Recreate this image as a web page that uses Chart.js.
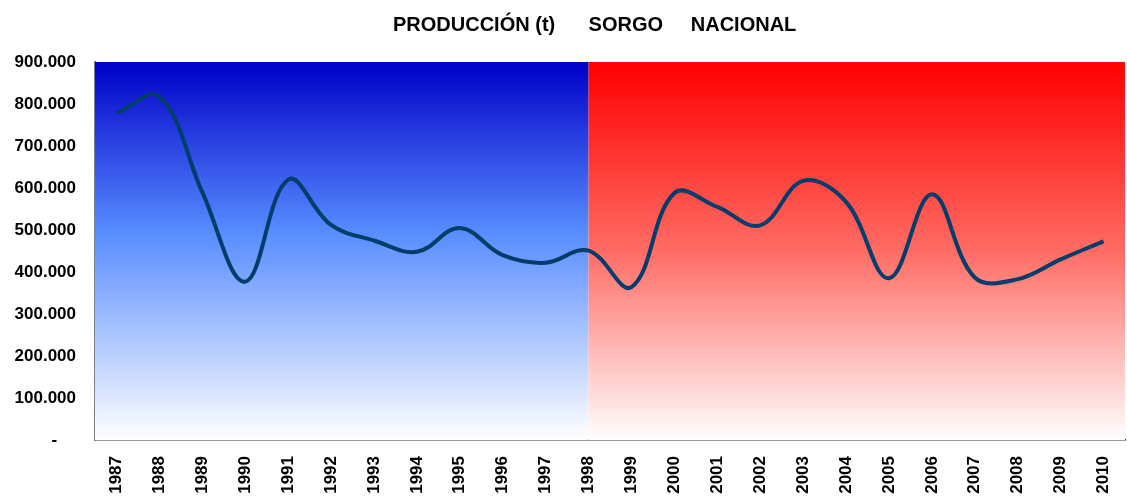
<!DOCTYPE html>
<html>
<head>
<meta charset="utf-8">
<script src="https://cdn.jsdelivr.net/npm/chart.js@4"></script>
<style>
  body { margin: 0; background: #fff; }
  #wrap { position: relative; width: 1127px; height: 500px; }
  #title {
    position: absolute; top: 14px; left: 393px;
    font: bold 20px "Liberation Sans", Arial, sans-serif;
    line-height: 20px; white-space: pre; color: #000;
  }
  canvas { position: absolute; left: 0; top: 0; }
</style>
</head>
<body>
<div id="wrap">
  <canvas id="chart" width="1127" height="500"></canvas>
  <div id="title">PRODUCCIÓN (t)      SORGO     NACIONAL</div>
</div>
<script>
// Data
const years = ["1987", "1988", "1989", "1990", "1991", "1992", "1993", "1994",
  "1995", "1996", "1997", "1998", "1999", "2000", "2001", "2002",
  "2003", "2004", "2005", "2006", "2007", "2008", "2009", "2010"];
const production = [778000, 818000, 590000, 377000, 620000, 512000, 475000, 448000,
  505000, 440000, 422000, 451000, 364000, 588000, 555000, 511000,
  617000, 567000, 385000, 585000, 387000, 383000, 430000, 473000];
const splitYear = "1998";
const yMax = 900000;
const yStep = 100000;

// Thousands with dots, zero as a dash
function formatTick(v) {
  if (v === 0) return "-    ";
  return String(v).replace(/\B(?=(\d{3})+(?!\d))/g, ".");
}

// Blue / red gradient halves behind the line
const backgroundHalves = {
  id: "backgroundHalves",
  beforeDatasetsDraw(chart) {
    const { ctx, chartArea: a, scales } = chart;
    const split = scales.x.getPixelForValue(years.indexOf(splitYear));

    const blue = ctx.createLinearGradient(0, a.top, 0, a.bottom);
    blue.addColorStop(0, "rgb(0,0,200)");
    blue.addColorStop(0.45, "rgb(88,140,255)");
    blue.addColorStop(1, "rgb(255,255,255)");

    const red = ctx.createLinearGradient(0, a.top, 0, a.bottom);
    red.addColorStop(0, "rgb(255,0,0)");
    red.addColorStop(0.5, "rgb(255,108,100)");
    red.addColorStop(1, "rgb(255,255,255)");

    ctx.save();
    ctx.fillStyle = blue;
    ctx.fillRect(a.left, a.top, split - a.left, a.bottom - a.top);
    ctx.fillStyle = red;
    ctx.fillRect(split, a.top, a.right - split, a.bottom - a.top);
    ctx.restore();
  }
};

const tickFont = { family: "'Liberation Sans', Arial, sans-serif", size: 17, weight: "bold" };

new Chart(document.getElementById("chart"), {
  type: "line",
  data: {
    labels: years,
    datasets: [{
      data: production,
      borderColor: "#023d6b",
      borderWidth: 4,
      pointRadius: 0,
      tension: 0.38,
      fill: false
    }]
  },
  options: {
    responsive: false,
    animation: false,
    layout: { padding: { top: 62, right: 2, left: 0, bottom: 0 } },
    plugins: {
      legend: { display: false },
      tooltip: { enabled: false }
    },
    scales: {
      x: {
        offset: true,
        grid: { display: false, drawTicks: false },
        border: { display: true, color: "#333", width: 1.5 },
        ticks: {
          color: "#000",
          font: tickFont,
          autoSkip: false,
          minRotation: 90,
          maxRotation: 90,
          padding: 16
        },
        afterFit(s) {
          s.height = 60;
          s.paddingLeft = 0;
          s.paddingRight = 0;
        }
      },
      y: {
        min: 0,
        max: yMax,
        grid: { display: false, drawTicks: false },
        border: { display: true, color: "#808080", width: 2 },
        ticks: {
          stepSize: yStep,
          color: "#000",
          font: tickFont,
          padding: 19,
          callback: formatTick
        },
        afterFit(s) { s.width = 95; }
      }
    }
  },
  plugins: [backgroundHalves]
});
</script>
</body>
</html>
